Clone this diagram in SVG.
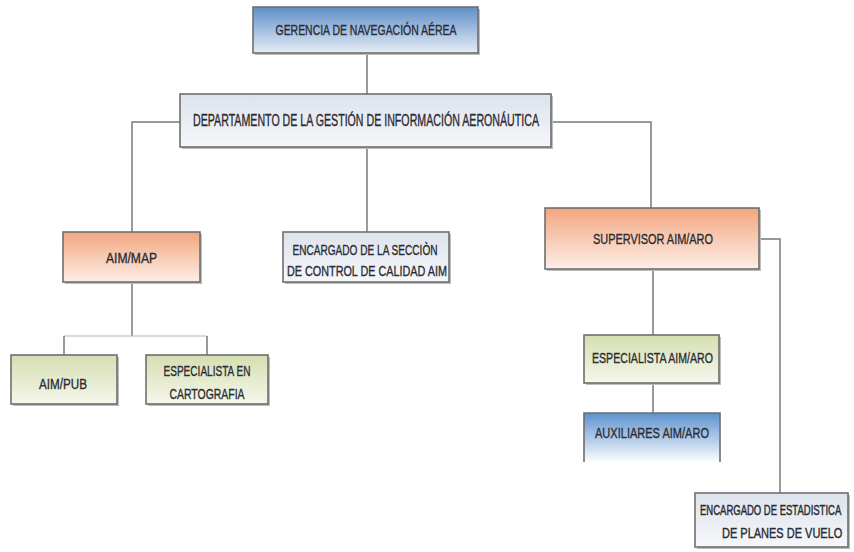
<svg xmlns="http://www.w3.org/2000/svg" width="854" height="552" viewBox="0 0 854 552">
<defs>
<linearGradient id="gBlue" x1="0" y1="0" x2="0" y2="1"><stop offset="0" stop-color="#5f8fc8"/><stop offset="1" stop-color="#e6edf6"/></linearGradient>
<linearGradient id="gBlue2" x1="0" y1="0" x2="0" y2="1"><stop offset="0" stop-color="#5d92cf"/><stop offset="1" stop-color="#ffffff"/></linearGradient>
<linearGradient id="gOrange" x1="0" y1="0" x2="0" y2="1"><stop offset="0" stop-color="#f2a67f"/><stop offset="1" stop-color="#fdeee6"/></linearGradient>
<linearGradient id="gGreen" x1="0" y1="0" x2="0" y2="1"><stop offset="0" stop-color="#d5deb2"/><stop offset="1" stop-color="#f5f7eb"/></linearGradient>
<linearGradient id="gGray" x1="0" y1="0" x2="0" y2="1"><stop offset="0" stop-color="#dde3ec"/><stop offset="1" stop-color="#f5f7fa"/></linearGradient>
</defs>
<style>
.box{stroke:#6f6f6f;stroke-width:1.6}
.shadow{fill:#bdbdbd}
.t{font-family:"Liberation Sans Narrow","Liberation Sans",Arial,sans-serif;font-size:15px;fill:#2b2b33;stroke:#2b2b33;stroke-width:0.35;text-anchor:middle}
.big{font-size:16px}
.s{font-family:"Liberation Sans",Arial,sans-serif;fill:#2b2b33;stroke:#2b2b33;stroke-width:0.3;text-anchor:start}
.s1{font-size:9.5px}
.s2{font-size:11px}
.c{fill:none;stroke:#7a7a7a;stroke-width:1.5}
.cl{fill:none;stroke:#b8b8b8;stroke-width:1.2}
</style>
<rect width="854" height="552" fill="#ffffff"/>
<g id="connectors">
<path class="c" d="M367,53V94"/>
<path class="c" d="M180,122H132V232"/>
<path class="c" d="M551,122H651V208"/>
<path class="c" d="M367,147V232"/>
<path class="c" d="M132,282V336"/>
<path class="cl" d="M64,336H207"/>
<path class="c" d="M64,336V355M207,336V355"/>
<path class="c" d="M653,269V335M653,383V413"/>
<path class="c" d="M759,239H780V493"/>
</g>
<g id="gerencia">
<rect x="255" y="9" width="225" height="46" class="shadow"/>
<rect x="253" y="7" width="225" height="46" fill="url(#gBlue)" class="box"/>
<text class="t" x="366" y="35" textLength="181" lengthAdjust="spacingAndGlyphs">GERENCIA DE NAVEGACIÓN AÉREA</text>
</g>
<g id="departamento">
<rect x="182" y="96" width="371" height="53" class="shadow"/>
<rect x="180" y="94" width="371" height="53" fill="url(#gGray)" class="box"/>
<text class="t big" x="366" y="126" textLength="346" lengthAdjust="spacingAndGlyphs">DEPARTAMENTO DE LA GESTIÓN DE INFORMACIÓN AERONÁUTICA</text>
</g>
<g id="aimmap">
<rect x="65" y="234" width="137" height="50" class="shadow"/>
<rect x="63" y="232" width="137" height="50" fill="url(#gOrange)" class="box"/>
<text class="t" x="131.5" y="263" textLength="51" lengthAdjust="spacingAndGlyphs">AIM/MAP</text>
</g>
<g id="encargado-calidad">
<rect x="285" y="234" width="166" height="50" class="shadow"/>
<rect x="283" y="232" width="166" height="50" fill="url(#gGray)" class="box"/>
<text class="t" x="365" y="255" textLength="145" lengthAdjust="spacingAndGlyphs">ENCARGADO DE LA SECCIÒN</text>
<text class="t" x="367" y="276" textLength="160" lengthAdjust="spacingAndGlyphs">DE CONTROL DE CALIDAD AIM</text>
</g>
<g id="aimpub">
<rect x="13" y="357" width="106" height="49" class="shadow"/>
<rect x="11" y="355" width="106" height="49" fill="url(#gGreen)" class="box"/>
<text class="t" x="63" y="389" textLength="48" lengthAdjust="spacingAndGlyphs">AIM/PUB</text>
</g>
<g id="especialista-cartografia">
<rect x="148" y="357" width="122" height="49" class="shadow"/>
<rect x="146" y="355" width="122" height="49" fill="url(#gGreen)" class="box"/>
<text class="t" x="207" y="376" textLength="87" lengthAdjust="spacingAndGlyphs">ESPECIALISTA EN</text>
<text class="t" x="207" y="399" textLength="75" lengthAdjust="spacingAndGlyphs">CARTOGRAFIA</text>
</g>
<g id="supervisor">
<rect x="547" y="210" width="214" height="61" class="shadow"/>
<rect x="545" y="208" width="214" height="61" fill="url(#gOrange)" class="box"/>
<text class="t" x="653" y="244" textLength="120" lengthAdjust="spacingAndGlyphs">SUPERVISOR AIM/ARO</text>
</g>
<g id="especialista-aro">
<rect x="586" y="337" width="135" height="48" class="shadow"/>
<rect x="584" y="335" width="135" height="48" fill="url(#gGreen)" class="box"/>
<text class="t" x="652.5" y="363" textLength="121" lengthAdjust="spacingAndGlyphs">ESPECIALISTA AIM/ARO</text>
</g>
<g id="auxiliares">
<rect x="584" y="413" width="136" height="50" fill="url(#gBlue2)"/>
<path d="M584,462V413H720V462" fill="none" class="box"/>
<text class="t" x="652" y="438" textLength="114" lengthAdjust="spacingAndGlyphs">AUXILIARES AIM/ARO</text>
</g>
<g id="encargado-estadistica">
<rect x="697" y="495" width="153" height="54" class="shadow"/>
<rect x="695" y="493" width="153" height="54" fill="url(#gGray)" class="box"/>
<text class="s s1" transform="translate(700,515) scale(1,1.45)" x="0" y="0">ENCARGADO DE ESTADISTICA</text>
<text class="s s2" transform="translate(722,538) scale(1,1.25)" x="0" y="0">DE PLANES DE VUELO</text>
</g>
</svg>
